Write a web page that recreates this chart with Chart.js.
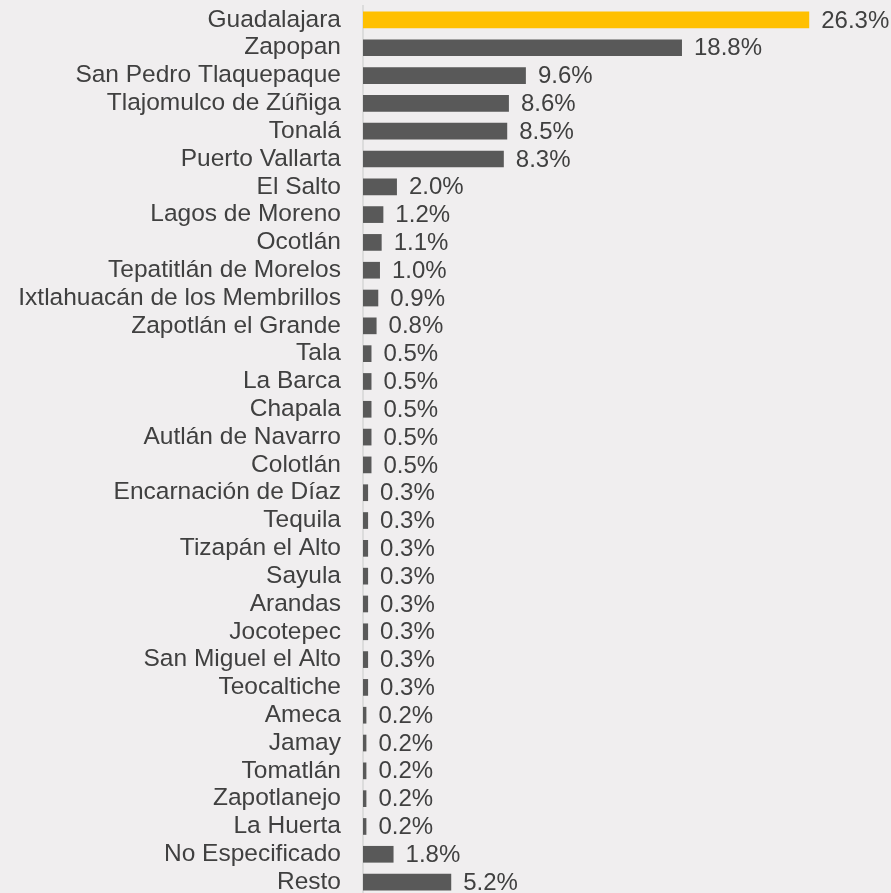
<!DOCTYPE html>
<html>
<head>
<meta charset="utf-8">
<script src="https://cdn.jsdelivr.net/npm/chart.js@4"></script>
<style>
  html, body { margin: 0; padding: 0; background: #f0eeef; overflow: hidden; }
  #wrap { position: relative; width: 891px; height: 900px; }
</style>
</head>
<body>
<div id="wrap"><canvas id="barChart"></canvas></div>
<script>
'use strict'

const municipios = ['Guadalajara', 'Zapopan', 'San Pedro Tlaquepaque', 'Tlajomulco de Zúñiga', 'Tonalá',
  'Puerto Vallarta', 'El Salto', 'Lagos de Moreno', 'Ocotlán', 'Tepatitlán de Morelos',
  'Ixtlahuacán de los Membrillos', 'Zapotlán el Grande', 'Tala', 'La Barca', 'Chapala',
  'Autlán de Navarro', 'Colotlán', 'Encarnación de Díaz', 'Tequila', 'Tizapán el Alto',
  'Sayula', 'Arandas', 'Jocotepec', 'San Miguel el Alto', 'Teocaltiche', 'Ameca', 'Jamay',
  'Tomatlán', 'Zapotlanejo', 'La Huerta', 'No Especificado', 'Resto'];
const porcentajes = [26.3, 18.8, 9.6, 8.6, 8.5, 8.3, 2.0, 1.2, 1.1, 1.0, 0.9, 0.8, 0.5, 0.5, 0.5,
  0.5, 0.5, 0.3, 0.3, 0.3, 0.3, 0.3, 0.3, 0.3, 0.3, 0.2, 0.2, 0.2, 0.2, 0.2, 1.8, 5.2];

const colores = municipios.map((m, i) => i === 0 ? '#ffc000' : '#595959');

// value labels at the end of each bar
const valueLabels = {
  id: 'valueLabels',
  afterDatasetsDraw(chart) {
    const c = chart.ctx;
    const meta = chart.getDatasetMeta(0);
    c.save();
    c.font = '24px "Liberation Sans", Arial, sans-serif';
    c.fillStyle = '#404040';
    c.textAlign = 'left';
    c.textBaseline = 'middle';
    meta.data.forEach((bar, i) => {
      c.fillText(porcentajes[i].toFixed(1) + '%', bar.x + 12, bar.y + 1);
    });
    c.restore();
  }
};

const ctx = document.getElementById('barChart');

new Chart(ctx, {
  type: 'bar',
  data: {
    labels: municipios,
    datasets: [{
      data: porcentajes,
      backgroundColor: colores,
      borderWidth: 0,
      barPercentage: 0.6,
      categoryPercentage: 1,
    }]
  },
  options: {
    indexAxis: 'y',
    responsive: true,
    maintainAspectRatio: false,
    animation: false,
    layout: { padding: { top: 6, bottom: 4, left: 0, right: 19 } },
    plugins: {
      legend: { display: false },
      tooltip: { enabled: false }
    },
    scales: {
      x: {
        display: false,
        min: 0,
        max: 30
      },
      y: {
        afterFit(scale) {
          scale.width = 363;
          scale.paddingTop = 0;
          scale.paddingBottom = 0;
        },
        grid: { display: false, drawTicks: false },
        border: { display: true, color: '#dcdcdc', width: 2 },
        ticks: {
          padding: 22,
          color: '#404040',
          autoSkip: false,
          font: { family: '"Liberation Sans", Arial, sans-serif', size: 24.5 }
        }
      }
    }
  },
  plugins: [valueLabels]
});
</script>
</body>
</html>
